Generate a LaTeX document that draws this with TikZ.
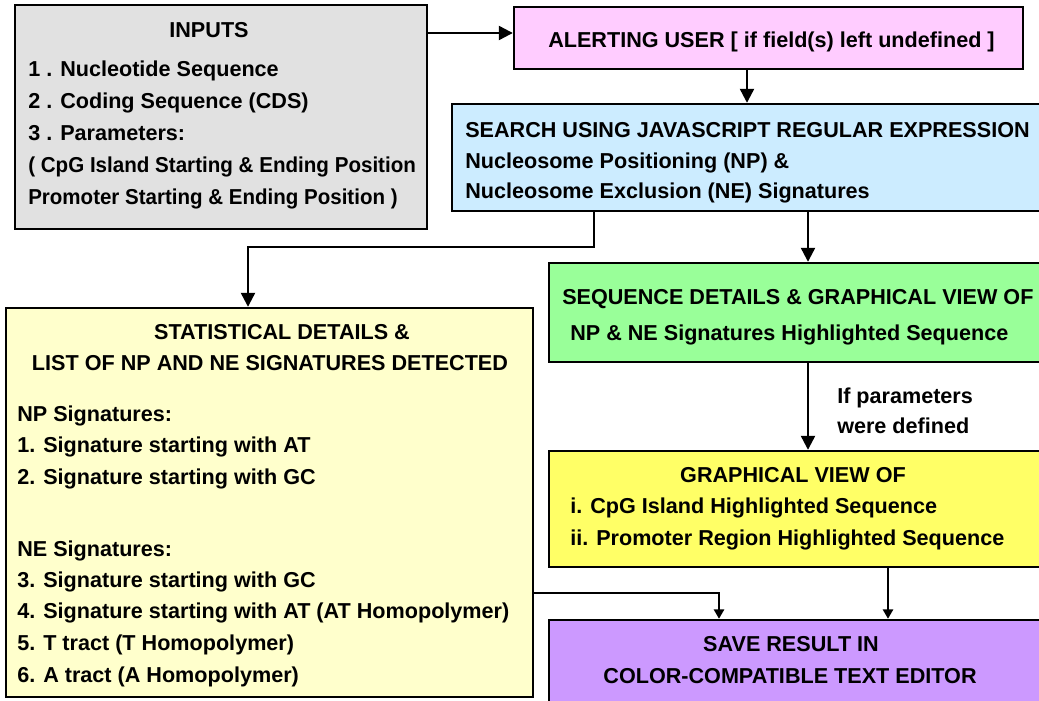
\documentclass[tikz,border=0pt]{standalone}
\usepackage{fontspec}
\usepackage{graphicx}
\setmainfont{Liberation Sans}
\usetikzlibrary{fit,arrows.meta}
\definecolor{cgray}{HTML}{E1E1E1}
\definecolor{cpink}{HTML}{FFCCFF}
\definecolor{cblue}{HTML}{CCECFF}
\definecolor{cgreen}{HTML}{99FF99}
\definecolor{cyel}{HTML}{FFFF66}
\definecolor{cpurp}{HTML}{CC99FF}
\definecolor{ccream}{HTML}{FFFFCC}
\tikzset{
  box/.style={draw=black, line width=1.8pt, inner sep=0pt},
  txt/.style={inner sep=0pt, font=\fontsize{16.2pt}{19pt}\selectfont\bfseries, text=black},
  arr/.style={line width=1.7pt, -{Triangle[length=10.5pt,width=10.5pt]}},
  arrs/.style={line width=1.7pt, -{Triangle[length=7pt,width=7.5pt]}}
}
\begin{document}
\begin{tikzpicture}[x=0.75pt,y=-0.75pt]
\useasboundingbox (0,0) rectangle (1039,700);
\clip (0,0) rectangle (1039,700);
\fill[white] (0,0) rectangle (1039,700);
% boxes
\node[box, fill=cgray,  fit={(15,5) (427,229)}] (inputs) {};
\node[box, fill=cpink,  fit={(514,7) (1023,69)}] (alert) {};
\node[box, fill=cblue,  fit={(452,104) (1070,211)}] (search) {};
\node[box, fill=ccream, fit={(6,308) (533,697)}] (stats) {};
\node[box, fill=cgreen, fit={(549,263) (1070,362)}] (seq) {};
\node[box, fill=cyel,   fit={(549,451) (1070,567)}] (graph) {};
\node[box, fill=cpurp,  fit={(549,620) (1070,720)}] (save) {};
% texts: inputs
\node[txt, anchor=base] (tin0) at (209,37) {INPUTS};
\node[txt, anchor=base west] (tin1) at (28,76) {1 . Nucleotide Sequence};
\node[txt, anchor=base west] (tin2) at (28,108) {2 . Coding Sequence (CDS)};
\node[txt, anchor=base west] (tin3) at (28,140) {3 . Parameters:};
\node[txt, anchor=base west] (tin4) at (28,172) {\scalebox{0.953}[1]{( CpG Island Starting \& Ending Position}};
\node[txt, anchor=base west] (tin5) at (28,204) {\scalebox{0.95}[1]{Promoter Starting \& Ending Position )}};
% alert
\node[txt, anchor=base west] (tal) at (548,47) {ALERTING USER [ if field(s) left undefined ]};
% search
\node[txt, anchor=base west] (ts1) at (465,137) {SEARCH USING JAVASCRIPT REGULAR EXPRESSION};
\node[txt, anchor=base west] (ts2) at (465,168) {Nucleosome Positioning (NP) \&};
\node[txt, anchor=base west] (ts3) at (465,198) {Nucleosome Exclusion (NE) Signatures};
% stats
\node[txt, anchor=base] (tst1) at (282,339) {STATISTICAL DETAILS \&};
\node[txt, anchor=base] (tst2) at (270,370) {LIST OF NP AND NE SIGNATURES DETECTED};
\node[txt, anchor=base west] (tst3) at (17,421) {NP Signatures:};
\node[txt, anchor=base west] (tst4) at (17,452) {1. Signature starting with AT};
\node[txt, anchor=base west] (tst5) at (17,484) {2. Signature starting with GC};
\node[txt, anchor=base west] (tst6) at (17,556) {NE Signatures:};
\node[txt, anchor=base west] (tst7) at (17,587) {3. Signature starting with GC};
\node[txt, anchor=base west] (tst8) at (17,618) {4. Signature starting with AT (AT Homopolymer)};
\node[txt, anchor=base west] (tst9) at (17,650) {5. T tract (T Homopolymer)};
\node[txt, anchor=base west] (tst10) at (17,682) {6. A tract (A Homopolymer)};
% seq
\node[txt, anchor=base west] (tq1) at (562,304) {SEQUENCE DETAILS \& GRAPHICAL VIEW OF};
\node[txt, anchor=base west] (tq2) at (570,340) {NP \& NE Signatures Highlighted Sequence};
% condition label
\node[txt, anchor=base west] (tc1) at (837,403) {If parameters};
\node[txt, anchor=base west] (tc2) at (837,433) {were defined};
% graph
\node[txt, anchor=base] (tg1) at (793,482) {GRAPHICAL VIEW OF};
\node[txt, anchor=base west] (tg2) at (570,513) {i. CpG Island Highlighted Sequence};
\node[txt, anchor=base west] (tg3) at (570,545) {ii. Promoter Region Highlighted Sequence};
% save
\node[txt, anchor=base] (tv1) at (791,651) {SAVE RESULT IN};
\node[txt, anchor=base] (tv2) at (790,683) {COLOR-COMPATIBLE TEXT EDITOR};
% helper coordinates
\coordinate (ya) at (0,33);
\coordinate (xa) at (747,0);
\coordinate (xs1) at (594,0);
\coordinate (xs2) at (808,0);
\coordinate (xst) at (248,0);
\coordinate (xg) at (888,0);
\coordinate (xsv) at (719,0);
\coordinate (ys) at (0,593);
% connectors
\draw[arr] (inputs.east |- ya) -- (alert.west |- ya);
\draw[arr] (alert.south -| xa) -- (search.north -| xa);
\draw[arr] (search.south -| xs1) -- ++(0,35) -| (stats.north -| xst);
\draw[arr] (search.south -| xs2) -- (seq.north -| xs2);
\draw[arr] (seq.south -| xs2) -- (graph.north -| xs2);
\draw[arrs] (graph.south -| xg) -- (save.north -| xg);
\draw[arrs] (stats.east |- ys) -| (save.north -| xsv);
\end{tikzpicture}
\end{document}
